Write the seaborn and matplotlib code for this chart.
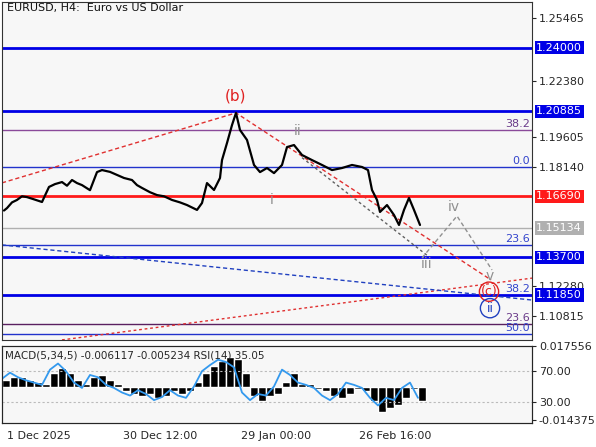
import matplotlib
matplotlib.use("Agg")
import matplotlib.pyplot as plt
import seaborn as sns

sns.set_style("white")
plt.rcParams['font.family'] = ['DejaVu Sans']

# price path (x in chart units, price)
price_x = [2, 5, 10, 15, 20, 25, 32, 40, 47, 53, 60, 65, 70, 75, 80, 88, 95, 100, 108, 115, 122, 130, 135, 140, 148, 155, 162,
           170, 178, 185, 190, 195, 200, 205, 212, 218, 220, 225, 230, 234, 238, 245, 252, 258, 265, 272, 280, 285, 292,
           300, 310, 320, 330, 340, 350, 360, 366, 370, 375, 378, 385, 392, 397, 402, 407, 412, 418]
price_y = [1.1600, 1.1612, 1.1640, 1.1652, 1.1670, 1.1666, 1.1655, 1.1642, 1.1716, 1.1730, 1.1740, 1.1722, 1.1750, 1.1735,
           1.1725, 1.1700, 1.1789, 1.1799, 1.1790, 1.1775, 1.1760, 1.1750, 1.1725, 1.1711, 1.1690, 1.1676, 1.1670,
           1.1652, 1.1640, 1.1627, 1.1615, 1.1603, 1.1637, 1.1735, 1.1701, 1.1760, 1.1848, 1.1932, 1.2020, 1.2080,
           1.1996, 1.1947, 1.1824, 1.1789, 1.1809, 1.1784, 1.1824, 1.1912, 1.1922, 1.1873, 1.1848, 1.1824, 1.1799,
           1.1809, 1.1824, 1.1814, 1.1799, 1.1701, 1.1652, 1.1593, 1.1627, 1.1578, 1.1529, 1.1603, 1.1662, 1.1603, 1.1529]

# levels: price, colour, width, label box
levels = [
    (1.24000, "#0000e6", 2.0, True),
    (1.20885, "#0000e6", 2.0, True),
    (1.19960, "#8a4a9a", 1.0, False),
    (1.18140, "#2233cc", 1.0, False),
    (1.16690, "#ff1a1a", 2.0, True),
    (1.15134, "#b0b0b0", 1.0, True),
    (1.14310, "#2233cc", 1.0, False),
    (1.13700, "#0000e6", 2.0, True),
    (1.11850, "#0000e6", 2.0, True),
    (1.10420, "#5a2060", 1.0, False),
    (1.09930, "#2233cc", 1.0, False),
]
fib_labels = [(1.19960, "38.2", "#6a3a8a"), (1.18140, "0.0", "#3344cc"), (1.14310, "23.6", "#3344cc"),
              (1.11850, "38.2", "#3344cc"), (1.10420, "23.6", "#6a3a8a"), (1.09930, "50.0", "#3344cc")]
price_ticks = [1.25465, 1.22380, 1.19605, 1.18140, 1.12280, 1.10815]

# dashed guide lines
red_wave_x = [0, 234, 489]
red_wave_y = [1.1736, 1.2080, 1.1259]
red_rise_x = [60, 532]
red_rise_y = [1.0964, 1.1269]
blue_line_x = [0, 530]
blue_line_y = [1.1431, 1.1160]
dark_guide_x = [300, 425]
dark_guide_y = [1.1860, 1.1380]
grey_wave_x = [420, 455, 490]
grey_wave_y = [1.1367, 1.1573, 1.1308]

wave_labels = [(233, 1.2165, "(b)", "#e02020", 11), (296, 1.1989, "ii", "#909090", 10),
               (270, 1.1650, "i", "#909090", 10), (425, 1.1335, "iii", "#909090", 10),
               (452, 1.1615, "iv", "#909090", 10), (488, 1.1280, "v", "#909090", 10)]

# lower panel
ind_x = list(range(0, 417, 8))
macd = [.003, .004, .004, .003, .002, .001, .006, .008, .006, .003, .001, .004, .005, .003, .001, -.002, -.003, -.004,
        -.003, -.005, -.004, -.002, -.003, -.002, .002, .006, .009, .011, .013, .012, .006, -.004, -.006, -.004,
        -.003, .002, .006, .001, .001, -.001, -.002, -.004, -.005, -.003, -.001, -.002, -.006, -.011, -.009, -.008,
        -.005, -.001, -.006]
rsi = [60, 68, 62, 58, 55, 52, 72, 80, 70, 55, 48, 65, 62, 52, 48, 42, 38, 45, 40, 32, 36, 45, 38, 35, 50, 70, 78,
       85, 82, 75, 42, 32, 40, 38, 50, 72, 65, 55, 52, 48, 38, 32, 40, 55, 52, 48, 35, 25, 35, 32, 48, 55, 35]
date_pos = [5, 121, 239, 357]
date_labels = ["1 Dec 2025", "30 Dec 12:00", "29 Jan 00:00", "26 Feb 16:00"]

W, H = 596, 447
fig = plt.figure(figsize=(W / 100, H / 100), dpi=100)
fig.patch.set_facecolor("white")
ax = fig.add_axes([2 / W, 1 - 340 / H, 530 / W, 338 / H])
ax2 = fig.add_axes([2 / W, 1 - 423 / H, 530 / W, 77 / H])
for a in (ax, ax2):
    a.set_facecolor("#f7f7f7")
    a.set_xlim(0, 530)
    for s in a.spines.values():
        s.set_color("#333333")

ax.set_ylim(1.09635, 1.26252)
for p, c, lw, box in levels:
    ax.axhline(p, color=c, lw=lw, zorder=1)
ax.plot(red_wave_x, red_wave_y, color="#e03030", lw=1, ls=(0, (3, 2)))
ax.plot(red_rise_x, red_rise_y, color="#e03030", lw=1, ls=(0, (2, 2)))
ax.plot(blue_line_x, blue_line_y, color="#2040c0", lw=1, ls=(0, (3, 2)))
ax.plot(dark_guide_x, dark_guide_y, color="#606060", lw=1, ls=(0, (2, 2)))
ax.plot(grey_wave_x, grey_wave_y, color="#909090", lw=1, ls=(0, (3, 2)))
sns.lineplot(x=price_x, y=price_y, ax=ax, color="black", lw=1.6, zorder=5)

for x, y, t, c, fs in wave_labels:
    ax.text(x, y, t, color=c, fontsize=fs, ha="center", va="center")
ax.text(487, 1.1201, "(c)", color="#e02020", fontsize=9, ha="center", va="center",
        bbox=dict(boxstyle="circle,pad=0.1", fc="none", ec="#e02020"))
ax.text(488, 1.1120, "ii", color="#2040c0", fontsize=9, ha="center", va="center",
        bbox=dict(boxstyle="circle,pad=0.25", fc="none", ec="#2040c0"))
for p, t, c in fib_labels:
    ax.text(528, p + 0.0006, t, color=c, fontsize=8, ha="right", va="bottom")
ax.text(5, 1.2595, "EURUSD, H4:  Euro vs US Dollar", fontsize=8, va="center", color="#111111")

ax.yaxis.tick_right()
ax.set_yticks(price_ticks)
ax.set_yticklabels([f"{p:.5f}" for p in price_ticks], fontsize=8)
ax.tick_params(axis="y", length=3, pad=2)
ax.set_xticks([])
for p, c, lw, box in levels:
    if box:
        ax.text(1.008, p, f"{p:.5f}", transform=ax.get_yaxis_transform(), color="white", fontsize=8,
                va="center", ha="left", bbox=dict(boxstyle="square,pad=0.15", fc=c, ec="none"),
                clip_on=False)

ax2.set_ylim(-0.0157, 0.0176)
ax2.bar(ind_x, macd, width=8, color="black", align="edge")
ax3 = ax2.twinx()
ax3.set_xlim(0, 530)
ax3.set_ylim(2, 103)
ax3.axhline(70, color="#bbbbbb", lw=0.8, ls=(0, (2, 2)))
ax3.axhline(30, color="#bbbbbb", lw=0.8, ls=(0, (2, 2)))
sns.lineplot(x=ind_x, y=rsi, ax=ax3, color="#3399ee", lw=1.3)
ax3.set_yticks([70, 30])
ax3.set_yticklabels(["70.00", "30.00"], fontsize=8)
ax3.tick_params(axis="y", length=3, pad=2)
ax3.set_ylabel("")
ax2.yaxis.tick_right()
ax2.set_yticks([0.017556, -0.014375])
ax2.set_yticklabels(["0.017556", "-0.014375"], fontsize=8)
ax2.tick_params(axis="y", length=3, pad=2)
ax2.text(3, 0.0155, "MACD(5,34,5) -0.006117 -0.005234 RSI(14) 35.05", fontsize=7.5, va="top")
ax2.set_xticks(date_pos)
ax2.set_xticklabels(date_labels, fontsize=8, ha="left")
ax2.tick_params(axis="x", length=4, pad=2)

fig.savefig("out.png", dpi=100)
